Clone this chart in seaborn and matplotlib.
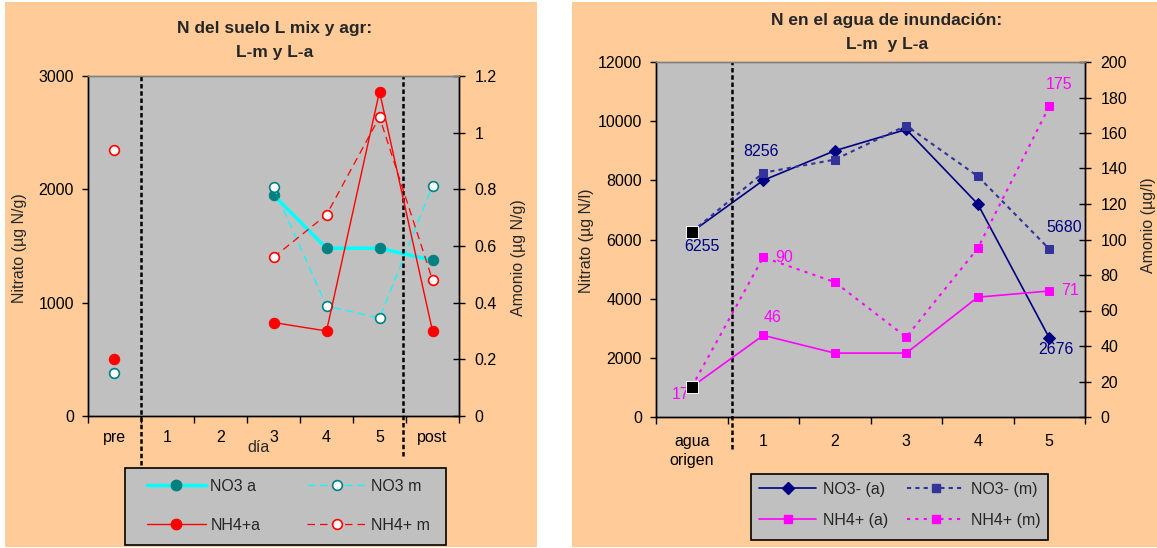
import numpy as np
import pandas as pd
import seaborn as sns
import matplotlib
matplotlib.use("Agg")
import matplotlib.pyplot as plt
from matplotlib.lines import Line2D
from matplotlib.patches import Rectangle
from matplotlib.ticker import FuncFormatter

sns.set_theme(style="white")
plt.rcParams["font.family"] = ["Liberation Sans", "DejaVu Sans"]
plt.rcParams["font.size"] = 11.5

# soil N (left panel)
soil_days = ["pre", "1", "2", "3", "4", "5", "post"]
soil_no3_a = [np.nan, np.nan, np.nan, 1950, 1480, 1480, 1375]
soil_no3_m = [380, np.nan, np.nan, 2020, 970, 865, 2030]
soil_nh4_a = [0.20, np.nan, np.nan, 0.33, 0.30, 1.145, 0.30]
soil_nh4_m = [0.94, np.nan, np.nan, 0.56, 0.71, 1.055, 0.48]

# flood water N (right panel)
water_days = ["agua\norigen", "1", "2", "3", "4", "5"]
water_no3_a = [6255, 8000, 9000, 9720, 7200, 2676]
water_no3_m = [6255, 8256, 8700, 9850, 8140, 5680]
water_nh4_a = [17, 46, 36, 36, 67.5, 71]
water_nh4_m = [17, 90, 76, 45, 95, 175]

PEACH = "#FFCC99"
GREY = "#C0C0C0"
W, H = 1157, 548
FS = 11.5


def to_frame(values):
    # each run of non-missing values gets its own unit, so gaps stay open
    df = pd.DataFrame({"x": np.arange(len(values)), "y": values})
    df["seg"] = df["y"].isna().cumsum()
    return df.dropna()


def series(ax, values, **kws):
    sns.lineplot(data=to_frame(values), x="x", y="y", units="seg",
                 estimator=None, ax=ax, **kws)


def px_box(x0, y0, x1, y1):
    return [x0 / W, 1 - y1 / H, (x1 - x0) / W, (y1 - y0) / H]


def ftext(x, y, s, **kws):
    fig.text(x / W, 1 - y / H, s, ha="center", va="center", **kws)


def box(x0, y0, x1, y1):
    fig.add_artist(Rectangle((x0 / W, 1 - y1 / H), (x1 - x0) / W,
                             (y1 - y0) / H, transform=fig.transFigure,
                             facecolor=GREY, edgecolor="black", lw=1.2,
                             zorder=1))


def style_axes(ax, ax2, labels, ylim, yticks, ylim2, yticks2, xpad):
    n = len(labels)
    ax.set_facecolor(GREY)
    ax.set_xlim(-0.5, n - 0.5)
    ax.set_ylim(*ylim)
    ax.set_yticks(yticks)
    ax2.set_ylim(*ylim2)
    ax2.set_yticks(yticks2)
    ax2.yaxis.set_major_formatter(FuncFormatter(lambda v, p: f"{v:g}"))
    ax.set_xticks(range(n))
    ax.set_xticklabels(labels)
    ax.set_xticks(np.arange(n + 1) - 0.5, minor=True)
    ax.tick_params(axis="x", which="major", bottom=True, length=0, pad=xpad,
                   labelcolor="black", labelsize=FS)
    ax.tick_params(axis="x", which="minor", bottom=True, length=5,
                   direction="out", color="black", width=1)
    ax.tick_params(axis="y", left=True, length=4, direction="out", width=1,
                   pad=6, color="black", labelcolor="black", labelsize=FS)
    ax2.tick_params(axis="y", right=True, length=8, direction="inout",
                    width=1, pad=7, color="black", labelcolor="black",
                    labelsize=FS)
    for a in (ax, ax2):
        for name, sp in a.spines.items():
            sp.set_visible(True)
            sp.set_color("#808080" if name == "top" else "black")
            sp.set_linewidth(1)
        a.set_xlabel("")
        a.set_ylabel("")


fig = plt.figure(figsize=(W / 100, H / 100), dpi=100, facecolor="white")
fig.add_artist(Rectangle((5 / W, 1 - 547 / H), 532 / W, 545 / H,
                         transform=fig.transFigure, facecolor=PEACH,
                         edgecolor="none", zorder=-10))
fig.add_artist(Rectangle((572 / W, 1 - 547 / H), 585 / W, 545 / H,
                         transform=fig.transFigure, facecolor=PEACH,
                         edgecolor="none", zorder=-10))

# ---------------- left panel ----------------
axl = fig.add_axes(px_box(88, 76, 459, 416))
axl2 = axl.twinx()
dash = (0, (6, 4))
series(axl, soil_no3_a, color="#00FFFF", lw=2.5, marker="o", ms=7.5,
       mfc="#008080", mec="#008080")
series(axl, soil_no3_m, color="#00FFFF", lw=0.9, ls=dash, marker="o", ms=7,
       mfc="white", mec="#008080", mew=1.2)
series(axl2, soil_nh4_a, color="#FF0000", lw=1, marker="o", ms=7.5,
       mfc="#FF0000", mec="#FF0000")
series(axl2, soil_nh4_m, color="#FF0000", lw=0.9, ls=dash, marker="o", ms=7,
       mfc="white", mec="#FF0000", mew=1.2)
style_axes(axl, axl2, soil_days, (0, 3000), [0, 1000, 2000, 3000],
           (0, 1.2), [0, 0.2, 0.4, 0.6, 0.8, 1.0, 1.2], 10)

vdash = (0, (1.8, 1.1))
for xv, ybot in [(0.5, -0.144), (5.45, -0.118)]:
    axl.plot([xv, xv], [ybot, 1], transform=axl.get_xaxis_transform(),
             clip_on=False, color="black", lw=1.8, ls=vdash, zorder=6)

ftext(275, 28, "N del suelo L mix y agr:", fontweight="bold", fontsize=12.5)
ftext(275, 52, "L-m y L-a", fontweight="bold", fontsize=12.5)
ftext(20, 248, "Nitrato (µg N/g)", rotation=90)
ftext(519, 258, "Amonio (µg N/g)", rotation=90)
ftext(258, 447, "día")

box(125, 468, 446, 545)
hl = [Line2D([], [], color="#00FFFF", lw=2.5, marker="o", ms=7.5,
             mfc="#008080", mec="#008080"),
      Line2D([], [], color="#FF0000", lw=1, marker="o", ms=7.5,
             mfc="#FF0000", mec="#FF0000"),
      Line2D([], [], color="#00FFFF", lw=0.9, ls=dash, marker="o", ms=7,
             mfc="white", mec="#008080", mew=1.2),
      Line2D([], [], color="#FF0000", lw=0.9, ls=dash, marker="o", ms=7,
             mfc="white", mec="#FF0000", mew=1.2)]
leg = fig.legend(hl, ["NO3 a", "NH4+a", "NO3 m", "NH4+ m"], ncol=2,
                 loc="center", bbox_to_anchor=(288 / W, 1 - 506 / H),
                 frameon=False, handlelength=3.75, handletextpad=0.25,
                 columnspacing=2.9, labelspacing=1.5, borderpad=0.2,
                 fontsize=FS, numpoints=1)
leg.set_zorder(2)

# ---------------- right panel ----------------
axr = fig.add_axes(px_box(656, 62, 1085, 417))
axr2 = axr.twinx()
series(axr, water_no3_a, color="#000080", lw=1.2, marker="D", ms=6,
       mfc="#000080", mec="#000080")
series(axr, water_no3_m, color="#333399", lw=1.5, ls=(0, (2, 2)), marker="s",
       ms=5.5, mfc="#333399", mec="#333399")
series(axr2, water_nh4_a, color="#FF00FF", lw=1.2, marker="s", ms=5.5,
       mfc="#FF00FF", mec="#FF00FF")
series(axr2, water_nh4_m, color="#FF00FF", lw=1.5, ls=(0, (1.5, 2.5)),
       marker="s", ms=5.5, mfc="#FF00FF", mec="#FF00FF")
sns.scatterplot(x=[0], y=[water_no3_a[0]], marker="s", s=70, color="black",
                ax=axr, zorder=5)
sns.scatterplot(x=[0], y=[water_nh4_a[0]], marker="s", s=70, color="black",
                ax=axr2, zorder=5)
style_axes(axr, axr2, water_days, (0, 12000), range(0, 12001, 2000),
           (0, 200), range(0, 201, 20), 12)
for lab in axr.get_xticklabels():
    lab.set_linespacing(1.4)
    lab.set_verticalalignment("top")

axr.plot([0.56, 0.56], [-0.09, 1], transform=axr.get_xaxis_transform(),
         clip_on=False, color="black", lw=1.8, ls=vdash, zorder=6)

navy = "#000080"
mag = "#FF00FF"
for a, vals, i, dx, dy, col in [
        (axr, water_no3_a, 0, 10, -15, navy),
        (axr, water_no3_m, 1, -2, 21, navy),
        (axr, water_no3_m, 5, 15, 21, navy),
        (axr, water_no3_a, 5, 7, -12, navy),
        (axr2, water_nh4_a, 0, -11, -8, mag),
        (axr2, water_nh4_a, 1, 9, 18, mag),
        (axr2, water_nh4_m, 1, 21, 0, mag),
        (axr2, water_nh4_a, 5, 21, 0, mag),
        (axr2, water_nh4_m, 5, 10, 22, mag)]:
    a.annotate(f"{vals[i]:g}", xy=(i, vals[i]), xytext=(dx, dy),
               textcoords="offset pixels", ha="center", va="center",
               color=col, fontsize=FS)

ftext(887, 20, "N en el agua de inundación:", fontweight="bold",
      fontsize=12.5)
ftext(887, 44, "L-m  y L-a", fontweight="bold", fontsize=12.5)
ftext(587, 241, "Nitrato (µg N/l)", rotation=90)
ftext(1149, 225, "Amonio (µg/l)", rotation=90)

box(751, 474, 1048, 540)
hr = [Line2D([], [], color="#000080", lw=1.2, marker="D", ms=6,
             mfc="#000080", mec="#000080"),
      Line2D([], [], color="#FF00FF", lw=1.2, marker="s", ms=5.5,
             mfc="#FF00FF", mec="#FF00FF"),
      Line2D([], [], color="#333399", lw=1.5, ls=(0, (2, 2)), marker="s",
             ms=5.5, mfc="#333399", mec="#333399"),
      Line2D([], [], color="#FF00FF", lw=1.5, ls=(0, (1.5, 2.5)), marker="s",
             ms=5.5, mfc="#FF00FF", mec="#FF00FF")]
leg2 = fig.legend(hr, ["NO3- (a)", "NH4+ (a)", "NO3- (m)", "NH4+ (m)"],
                  ncol=2, loc="center",
                  bbox_to_anchor=(900 / W, 1 - 505 / H), frameon=False,
                  handlelength=3.56, handletextpad=0.44, columnspacing=1.2,
                  labelspacing=1.0, borderpad=0.2, fontsize=FS, numpoints=1)
leg2.set_zorder(2)

fig.savefig("out.png", dpi=100, facecolor="white")
